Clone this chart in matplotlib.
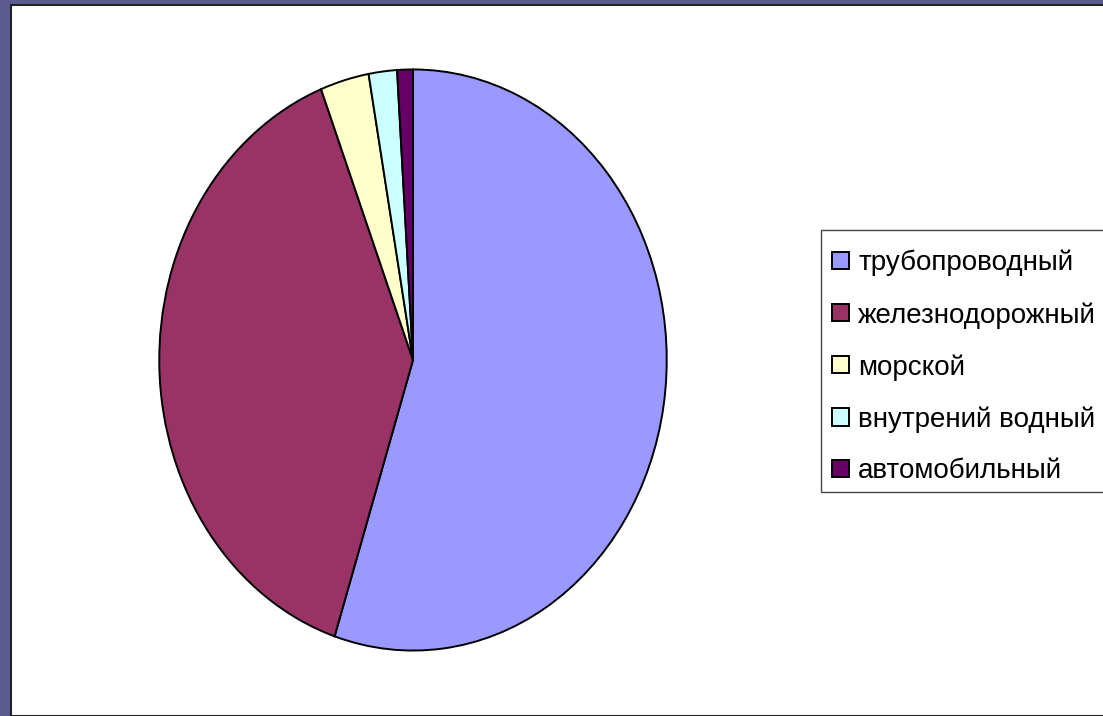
import matplotlib.pyplot as plt
from matplotlib.patches import Rectangle, Patch

# share of freight turnover by transport type
labels = ['трубопроводный', 'железнодорожный', 'морской', 'внутрений водный', 'автомобильный']
values = [55.0, 39.1, 3.1, 1.8, 1.0]
colors = ['#9999ff', '#993366', '#ffffcc', '#ccffff', '#660066']

W, H = 1103, 716
fig = plt.figure(figsize=(W / 100, H / 100), dpi=100)
fig.patch.set_facecolor('#5c5b91')

# white slide panel (behind the axes)
fig.patches.append(Rectangle((11 / W, 0), 1.0, 1 - 5 / H, transform=fig.transFigure,
                             facecolor='white', edgecolor='#222222', linewidth=1.5,
                             zorder=-10))

cx, cy, rx, ry = 413, 360, 255, 292
ax = fig.add_axes([(cx - rx) / W, (H - cy - ry) / H, 2 * rx / W, 2 * ry / H])
ax.patch.set_alpha(0)
wedges, _ = ax.pie(values, colors=colors, startangle=90, counterclock=False,
                   wedgeprops=dict(edgecolor='black', linewidth=1.4))
ax.set_aspect('auto')
ax.set_xlim(-1.005, 1.005)
ax.set_ylim(-1.005, 1.005)

# legend frame drawn by hand, it runs past the right edge
fig.patches.append(Rectangle((821 / W, 1 - 492 / H), 300 / W, 262 / H, transform=fig.transFigure,
                             facecolor='white', edgecolor='#444444', linewidth=1.0, zorder=1))

handles = [Patch(facecolor=c, edgecolor='black', linewidth=1.4) for c in colors]
plt.rcParams['font.family'] = ['Liberation Sans', 'DejaVu Sans']
leg = fig.legend(handles, labels, loc='upper left', bbox_to_anchor=(832 / W, 1 - 250 / H),
                 fontsize=20, frameon=False,
                 handlelength=0.62, handleheight=0.58, handletextpad=0.32,
                 labelspacing=0.92, borderpad=0, borderaxespad=0)
leg.set_zorder(2)

fig.savefig('out.png', dpi=100, facecolor=fig.get_facecolor())
